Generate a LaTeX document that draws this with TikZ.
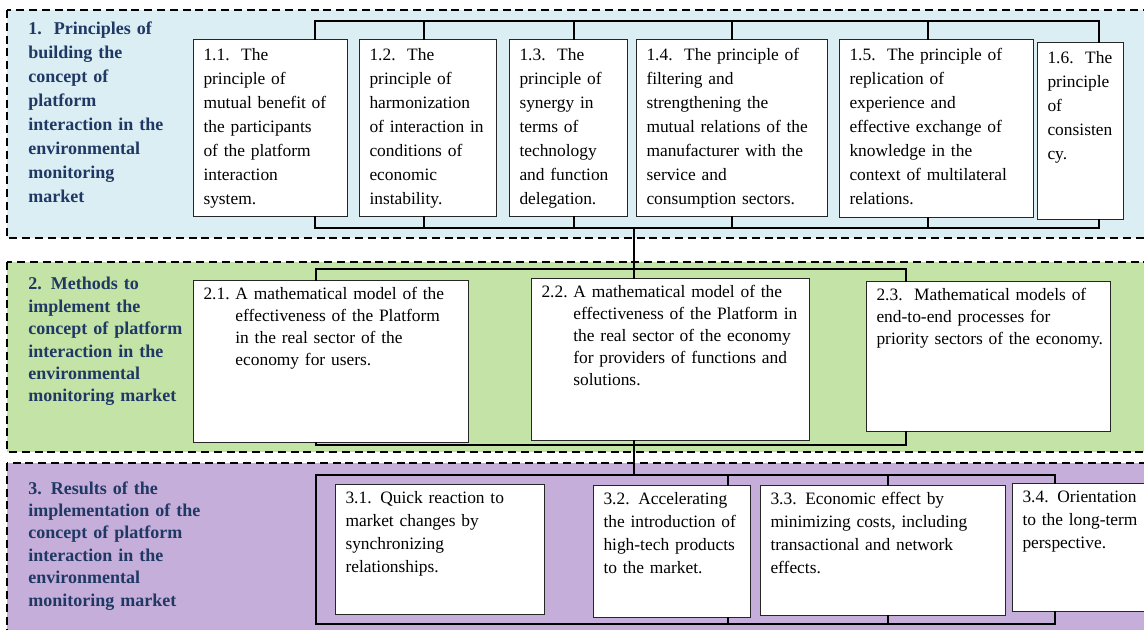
\documentclass[tikz,border=0pt]{standalone}
\usepackage{fontspec}
\setmainfont{Liberation Serif}
\usetikzlibrary{positioning}

\definecolor{bandBlue}{HTML}{DAEEF3}
\definecolor{bandGreen}{HTML}{C4E3A6}
\definecolor{bandViolet}{HTML}{C5AED9}
\definecolor{headNavy}{HTML}{1F3864}

\begin{document}
\begin{tikzpicture}[x=0.5pt, y=-0.5pt]
    \def\xsep{5}
    \def\txtH{7}

    \tikzstyle{band} = [draw, line width=0.9pt, dash pattern=on 4pt off 2.4pt]
    \tikzstyle{head} = [anchor=north west, inner sep=0pt, text width=92pt, align=left, text=headNavy]
    \tikzstyle{block} = [draw=black!85, line width=0.5pt, fill=white, anchor=north west, align=left, inner xsep=\xsep pt, text height=\txtH pt]
    \tikzstyle{bus} = [line width=1.3pt, line cap=rect]

    \path[use as bounding box] (0,0) rectangle (1144,629);
    \clip (0,0) rectangle (1144,629);

    % the three bands
    \draw[band, fill=bandBlue] (7,10) rectangle (1170,238);
    \draw[band, fill=bandGreen] (7,262) rectangle (1170,452);
    \draw[band, fill=bandViolet] (7,463) rectangle (1170,670);

    \node[head, font=\bfseries\fontsize{9}{12}\selectfont] (h1) at (28,21)
        {1.\ \ Principles of\\ building the\\ concept of\\ platform\\ interaction in the\\ environmental\\ monitoring\\ market};
    \node[head, font=\bfseries\fontsize{9}{11.2}\selectfont] (h2) at (28,277)
        {2. Methods to\\ implement the\\ concept of platform\\ interaction in the\\ environmental\\ monitoring market};
    \node[head, font=\bfseries\fontsize{9}{11.2}\selectfont] (h3) at (28,481)
        {3. Results of the\\ implementation of the\\ concept of platform\\ interaction in the\\ environmental\\ monitoring market};

    % row 1: principles
    \foreach \n/\x/\y/\w/\h/\txt in {
        b11/193/39/154/177/{1.1.\ \ The\\ principle of\\ mutual benefit of\\ the participants\\ of the platform\\ interaction\\ system.},
        b12/359/39/137/177/{1.2.\ \ The\\ principle of\\ harmonization\\ of interaction in\\ conditions of\\ economic\\ instability.},
        b13/509/39/118/177/{1.3.\ \ The\\ principle of\\ synergy in\\ terms of\\ technology\\ and function\\ delegation.},
        b14/636/39/191/177/{1.4.\ \ The principle of\\ filtering and\\ strengthening the\\ mutual relations of the\\ manufacturer with the\\ service and\\ consumption sectors.},
        b15/839/39/194/178/{1.5.\ \ The principle of\\ replication of\\ experience and\\ effective exchange of\\ knowledge in the\\ context of multilateral\\ relations.},
        b16/1037/42/86/177/{1.6.\ \ The\\ principle\\ of\\ consisten\\ cy.}} {
        \pgfmathsetmacro{\tw}{\w/2 - 2*\xsep}
        \pgfmathsetmacro{\td}{\h/2 - \txtH - 7}
        \node[block, font=\fontsize{8.7}{12}\selectfont, inner ysep=3.5pt, text width=\tw pt, text depth=\td pt] (\n) at (\x,\y) {\txt};
    }

    % row 2: methods
    \foreach \n/\x/\y/\w/\h/\txt in {
        b21/193/280/275/162/{\begin{tabular}[t]{@{}l@{\ }l@{}}2.1. & A mathematical model of the\\ & effectiveness of the Platform\\ & in the real sector of the\\ & economy for users.\end{tabular}},
        b22/531/278/278/162/{\begin{tabular}[t]{@{}l@{\ }l@{}}2.2. & A mathematical model of the\\ & effectiveness of the Platform in\\ & the real sector of the economy\\ & for providers of functions and\\ & solutions.\end{tabular}},
        b23/866/281/244/150/{2.3.\ \ Mathematical models of\\ end-to-end processes for\\ \mbox{priority sectors of the economy.}}} {
        \pgfmathsetmacro{\tw}{\w/2 - 2*\xsep}
        \pgfmathsetmacro{\td}{\h/2 - \txtH - 5}
        \node[block, font=\fontsize{8.7}{11}\selectfont, inner ysep=2.5pt, text width=\tw pt, text depth=\td pt] (\n) at (\x,\y) {\txt};
    }

    % row 3: results
    \foreach \n/\x/\y/\w/\h/\txt in {
        b31/335/484/209/130/{3.1. Quick reaction to\\ market changes by\\ synchronizing\\ relationships.},
        b32/593/485/157/132/{3.2. Accelerating\\ the introduction of\\ high-tech products\\ to the market.},
        b33/760/485/245/130/{3.3. Economic effect by\\ minimizing costs, including\\ transactional and network\\ effects.},
        b34/1012/483/140/128/{3.4. Orientation\\ to the long-term\\ perspective.}} {
        \pgfmathsetmacro{\tw}{\w/2 - 2*\xsep}
        \pgfmathsetmacro{\td}{\h/2 - \txtH - 5}
        \node[block, font=\fontsize{8.7}{11.5}\selectfont, inner ysep=2.5pt, text width=\tw pt, text depth=\td pt] (\n) at (\x,\y) {\txt};
    }

    % frame round row 1
    \foreach \n/\x in {b11/315, b12/424, b13/574, b14/732, b15/928, b16/1099} {
        \coordinate (t\n) at (\x,21);
        \coordinate (u\n) at (\x,228);
        \draw[bus] (t\n) -- (t\n |- \n.north);
        \draw[bus] (u\n) -- (u\n |- \n.south);
    }
    \draw[bus] (tb11) -- (tb16);
    \draw[bus] (ub11) -- (ub16);

    % frame round row 2
    \foreach \n/\x in {b21/316, b22/634, b23/906} {
        \coordinate (t\n) at (\x,269);
        \coordinate (u\n) at (\x,445);
        \draw[bus] (t\n) -- (t\n |- \n.north);
        \draw[bus] (u\n) -- (u\n |- \n.south);
    }
    \draw[bus] (tb21) -- (tb23);
    \draw[bus] (ub21) -- (ub23);

    % frame round row 3
    \coordinate (tl3) at (316,475);
    \coordinate (ul3) at (316,624);
    \foreach \n/\x in {b32/728, b33/888, b34/1055} {
        \coordinate (t\n) at (\x,475);
        \coordinate (u\n) at (\x,624);
        \draw[bus] (t\n) -- (t\n |- \n.north);
        \draw[bus] (u\n) -- (u\n |- \n.south);
    }
    \draw[bus] (tl3) -- (tb34);
    \draw[bus] (ul3) -- (ub34);
    \draw[bus] (tl3) -- (ul3);

    % spine between the rows
    \coordinate (sp1) at (634,228);
    \coordinate (sp3) at (634,475);
    \draw[bus] (sp1) -- (tb22);
    \draw[bus] (ub22) -- (sp3);
\end{tikzpicture}
\end{document}
